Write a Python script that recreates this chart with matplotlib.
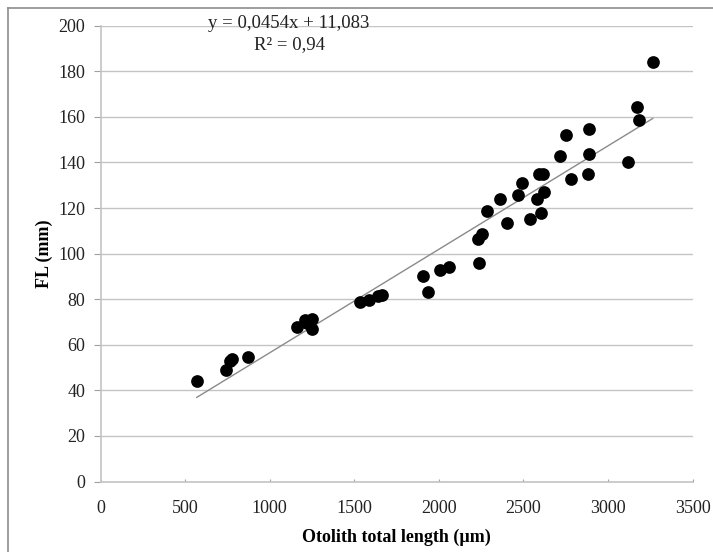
import matplotlib.pyplot as plt
from matplotlib.lines import Line2D

plt.rcParams["font.family"] = ["Liberation Serif", "DejaVu Serif"]

# otolith total length (um) vs fork length (mm)
otolith_len = [569, 742, 766, 780, 874, 1160, 1209, 1219, 1249, 1249,
               1534, 1589, 1642, 1667, 1905, 1934, 2007, 2060, 2230, 2240,
               2257, 2287, 2364, 2401, 2470, 2490, 2541, 2582, 2594, 2604,
               2614, 2624, 2717, 2752, 2782, 2880, 2888, 2888, 3120, 3172,
               3185, 3265]
fork_len = [43.9, 48.8, 52.8, 53.8, 54.6, 67.8, 71.0, 69.5, 67.0, 71.5,
            78.8, 79.8, 81.3, 81.9, 90.0, 83.0, 93.0, 94.0, 106.2, 95.8,
            108.8, 118.9, 123.9, 113.5, 125.9, 130.8, 115.4, 123.9, 134.9, 117.9,
            134.9, 126.9, 142.9, 151.9, 132.8, 134.8, 143.8, 154.9, 140.0, 164.2,
            158.5, 183.9]

slope = 0.0454
intercept = 11.083
r2_text = "0,94"

x_ticks = [0, 500, 1000, 1500, 2000, 2500, 3000, 3500]
y_ticks = [0, 20, 40, 60, 80, 100, 120, 140, 160, 180, 200]

fig = plt.figure(figsize=(7.13, 5.52), dpi=100)
ax = fig.add_axes([0.141, 0.1277, 0.8303, 0.8257])

ax.scatter(otolith_len, fork_len, s=84, color="black", zorder=3, linewidths=0)

tx = [min(otolith_len), max(otolith_len)]
ty = [slope * v + intercept for v in tx]
ax.plot(tx, ty, color="#8a8a8a", lw=1.0, zorder=2)

ax.set_xlim(0, 3500)
ax.set_ylim(0, 200)
ax.set_xticks(x_ticks)
ax.set_yticks(y_ticks)
ax.yaxis.grid(True, color="#c4c4c4", lw=1.0)
ax.set_axisbelow(True)

for s in ["top", "right"]:
    ax.spines[s].set_visible(False)
for s in ["left", "bottom"]:
    ax.spines[s].set_color("#c4c4c4")
    ax.spines[s].set_linewidth(1.2)

ax.tick_params(axis="y", direction="out", length=5, color="#a0a0a0",
               labelsize=13, pad=6, labelcolor="#222222")
ax.tick_params(axis="x", direction="in", length=2.5, color="#a0a0a0",
               labelsize=13, pad=13, labelcolor="#222222")

ax.set_xlabel("Otolith total length (\u00b5m)", fontsize=13, fontweight="bold",
              labelpad=9)
ax.set_ylabel("FL (mm)", fontsize=13, fontweight="bold", labelpad=4)

fig.text(289 / 713, 1 - 34 / 552,
         f"y = {str(slope).replace('.', ',')}x + {str(intercept).replace('.', ',')}\nR\u00b2 = {r2_text}",
         ha="center", va="center", fontsize=13.5, color="#222222", linespacing=1.25)

# outer chart frame (runs off the right and bottom edges)
fig.add_artist(Line2D([8 / 713, 1.0], [1 - 8 / 552, 1 - 8 / 552],
                      transform=fig.transFigure, color="#8c8c8c", lw=1.2))
fig.add_artist(Line2D([8 / 713, 8 / 713], [0.0, 1 - 8 / 552],
                      transform=fig.transFigure, color="#8c8c8c", lw=1.2))

fig.savefig("out.png", dpi=100)
